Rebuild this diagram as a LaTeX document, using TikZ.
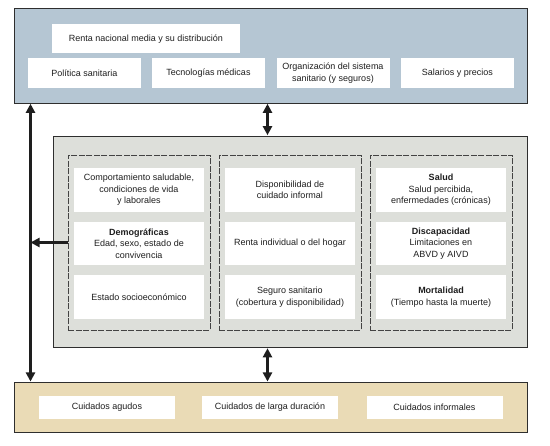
\documentclass[tikz,border=0pt]{standalone}
\usepackage{fontspec}
\setmainfont{Liberation Sans}
\usetikzlibrary{arrows.meta}
\definecolor{topfill}{HTML}{B5C6D3}
\definecolor{midfill}{HTML}{DDDFDA}
\definecolor{botfill}{HTML}{EADBB6}
\definecolor{ink}{HTML}{1E1E1E}
\definecolor{edge}{HTML}{2E2E2E}
\tikzset{
  wbox/.style={fill=white, draw=none, inner sep=0pt, align=center, text=ink,
    font=\fontsize{9}{11.5}\selectfont},
  container/.style={draw=edge, line width=0.8pt, inner sep=0pt},
  panel/.style={draw=edge!90, line width=0.5pt, dash pattern=on 6pt off 1.5pt, inner sep=0pt},
  conn/.style={ink, line width=2.2pt, {Triangle[length=9pt,width=9pt]}-{Triangle[length=9pt,width=9pt]}},
  conn1/.style={ink, line width=2.2pt, -{Triangle[length=9pt,width=9pt]}}
}
\begin{document}
\begin{tikzpicture}[x=1pt,y=-1pt]
\useasboundingbox (0,0) rectangle (550,446);
% containers
\node[container, fill=topfill, minimum width=512.3pt, minimum height=94.7pt] (top) at (270.85,55.65) {};
\node[container, fill=midfill, minimum width=474pt, minimum height=211.5pt] (mid) at (290,241.75) {};
\node[container, fill=botfill, minimum width=512.3pt, minimum height=50pt] (bot) at (270.85,407.3) {};
% top boxes
\node[wbox, minimum width=188.4pt, minimum height=29.3pt] (renta) at (145.8,38.65) {Renta nacional media y su distribución};
\node[wbox, minimum width=113pt, minimum height=30pt] (pol) at (84.5,73) {Política sanitaria};
\node[wbox, minimum width=113pt, minimum height=30pt] (tec) at (208.5,73) {Tecnologías médicas};
\node[wbox, minimum width=113pt, minimum height=30pt] (org) at (333,73) {Organización del sistema\\sanitario (y seguros)};
\node[wbox, minimum width=113pt, minimum height=30pt] (sal) at (457.5,73) {Salarios y precios};
% panels
\node[panel, minimum width=142pt, minimum height=175pt] (p1) at (139,242.5) {};
\node[panel, minimum width=142pt, minimum height=175pt] (p2) at (290,242.5) {};
\node[panel, minimum width=142pt, minimum height=175pt] (p3) at (441,242.5) {};
% panel 1
\node[wbox, minimum width=130pt, minimum height=43.5pt] (a1) at (139,190) {Comportamiento saludable,\\condiciones de vida\\y laborales};
\node[wbox, minimum width=130pt, minimum height=43.5pt] (a2) at (139,243.5) {\textbf{Demográficas}\\Edad, sexo, estado de\\convivencia};
\node[wbox, minimum width=130pt, minimum height=43.5pt] (a3) at (139,297) {Estado socioeconómico};
% panel 2
\node[wbox, minimum width=130pt, minimum height=43.5pt] (b1) at (290,190) {Disponibilidad de\\cuidado informal};
\node[wbox, minimum width=130pt, minimum height=43.5pt] (b2) at (290,243.5) {Renta individual o del hogar};
\node[wbox, minimum width=130pt, minimum height=43.5pt] (b3) at (290,297) {Seguro sanitario\\(cobertura y disponibilidad)};
% panel 3
\node[wbox, minimum width=130pt, minimum height=43.5pt] (c1) at (441,190) {\textbf{Salud}\\Salud percibida,\\enfermedades (crónicas)};
\node[wbox, minimum width=130pt, minimum height=43.5pt] (c2) at (441,243.5) {\textbf{Discapacidad}\\Limitaciones en\\ABVD y AIVD};
\node[wbox, minimum width=130pt, minimum height=43.5pt] (c3) at (441,297) {\textbf{Mortalidad}\\(Tiempo hasta la muerte)};
% bottom boxes
\node[wbox, minimum width=136pt, minimum height=23pt] (agu) at (107,407.5) {Cuidados agudos};
\node[wbox, minimum width=136pt, minimum height=23pt] (lar) at (270,407.5) {Cuidados de larga duración};
\node[wbox, minimum width=136pt, minimum height=23pt] (inf) at (434.5,407.5) {Cuidados informales};
% connectors
\coordinate (vx) at (30.5,0);
\coordinate (mx) at (267.5,0);
\draw[conn] ([yshift=-0.4pt]top.south -| vx) -- ([yshift=0.4pt]bot.north -| vx);
\draw[conn1] (p1.west) -- (p1.west -| vx);
\draw[conn] ([yshift=-0.4pt]top.south -| mx) -- ([yshift=0.4pt]mid.north -| mx);
\draw[conn] ([yshift=-0.4pt]mid.south -| mx) -- ([yshift=0.4pt]bot.north -| mx);
\end{tikzpicture}
\end{document}
